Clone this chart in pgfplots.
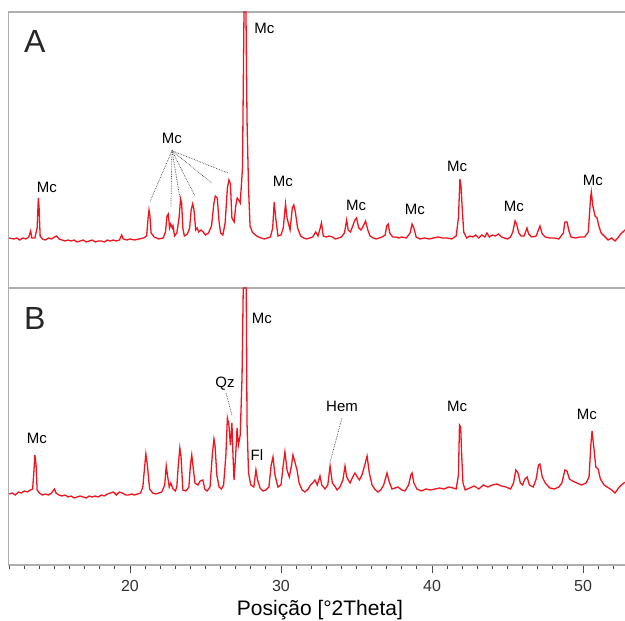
\documentclass[border=0pt]{standalone}
\usepackage{pgfplots}
\pgfplotsset{compat=1.18}
\usepackage{fontspec}
\setmainfont{Liberation Sans}
\definecolor{xrdred}{RGB}{240,20,30}
\definecolor{framegray}{RGB}{175,175,175}
\newcommand\lab{\fontsize{15bp}{18bp}\selectfont}
\newcommand\panelfont{\fontsize{32bp}{36bp}\selectfont}
\pgfplotsset{xrd/.style={scale only axis, width=627.35bp, xmin=11.954, xmax=53.5, ymin=0,
  axis line style={draw=framegray, line width=1.4bp}, ytick=\empty, clip=false},
  xrdline/.style={color=xrdred, line width=1.3bp, sharp plot, mark=none}}
\begin{document}
\begin{tikzpicture}
\useasboundingbox (0bp,0bp) rectangle (625bp,621bp);
% ---------------- Panel A
\begin{axis}[xrd, at={(8.5bp,333bp)}, anchor=south west, height=276bp, ymax=276, xtick=\empty]
\addplot[xrdline] coordinates {
(12.0,50)(12.3,49)(12.5,50)(12.7,48)(12.9,50)(13.1,49)(13.3,51)(13.42,57)(13.5,50)(13.7,50)
(13.85,60)(13.93,90)(13.98,80)(14.05,52)(14.2,49)(14.4,48)(14.6,50)(14.8,49)(15.0,51)(15.15,52)
(15.3,49)(15.5,48)(15.7,47)(15.9,48)(16.1,47)(16.3,48)(16.5,46)(16.7,47)(16.9,48)(17.1,46)
(17.3,47)(17.5,48)(17.7,46)(17.9,47)(18.1,47)(18.3,46)(18.5,48)(18.7,47)(18.9,48)(19.1,47)
(19.3,48)(19.45,53)(19.55,49)(19.8,48)(20.0,49)(20.3,48)(20.6,49)(20.9,50)(21.1,52)(21.2,70)
(21.26,78)(21.32,72)(21.4,55)(21.6,51)(21.9,49)(22.2,50)(22.35,56)(22.45,72)(22.54,74)(22.62,60)
(22.7,64)(22.8,60)(22.85,62)(22.95,52)(23.1,55)(23.25,70)(23.35,89)(23.42,85)(23.5,60)(23.6,52)
(23.8,54)(23.95,60)(24.05,78)(24.15,84)(24.24,78)(24.35,58)(24.45,60)(24.55,56)(24.7,58)(24.85,56)
(25.0,53)(25.2,55)(25.4,62)(25.55,84)(25.65,92)(25.78,90)(25.9,66)(26.0,55)(26.15,53)(26.3,65)
(26.45,100)(26.55,108)(26.65,104)(26.75,70)(26.9,66)(27.0,82)(27.1,90)(27.2,88)(27.3,85)(27.45,120)
(27.55,276)(27.68,276)(27.75,168)(27.85,100)(27.95,62)(28.1,56)(28.3,53)(28.5,51)(28.7,50)
(28.9,49)(29.1,50)(29.3,51)(29.45,60)(29.55,86)(29.65,70)(29.8,52)(30.0,53)(30.15,60)(30.3,84)
(30.4,70)(30.6,58)(30.75,80)(30.85,83)(30.95,76)(31.1,60)(31.3,52)(31.5,50)(31.7,49)(31.9,50)
(32.1,51)(32.3,56)(32.45,52)(32.6,60)(32.68,65)(32.8,52)(33.0,51)(33.2,52)(33.4,51)(33.6,49)
(33.8,50)(34.0,51)(34.2,55)(34.35,68)(34.45,58)(34.6,56)(34.75,62)(34.9,68)(35.0,70)(35.15,60)
(35.3,58)(35.45,62)(35.6,67)(35.75,58)(35.9,52)(36.1,50)(36.3,49)(36.5,50)(36.7,51)(36.9,53)
(37.0,62)(37.1,64)(37.2,55)(37.4,51)(37.6,51)(37.8,50)(38.0,51)(38.3,50)(38.55,55)(38.68,64)
(38.8,60)(38.95,51)(39.2,49)(39.5,50)(39.8,49)(40.1,50)(40.4,51)(40.7,50)(41.0,50)(41.3,49)
(41.6,52)(41.75,70)(41.85,109)(41.92,102)(42.0,80)(42.1,56)(42.3,50)(42.5,52)(42.7,51)(42.9,53)
(43.1,50)(43.3,53)(43.5,51)(43.64,55)(43.8,51)(44.0,53)(44.2,52)(44.4,54)(44.6,51)(44.8,50)
(45.0,49)(45.2,51)(45.35,56)(45.5,67)(45.6,64)(45.75,55)(45.9,52)(46.1,52)(46.29,60)(46.4,54)
(46.6,51)(46.9,52)(47.0,56)(47.15,62)(47.3,54)(47.5,51)(47.8,50)(48.1,50)(48.4,49)(48.7,55)
(48.8,66)(48.95,66)(49.05,58)(49.2,51)(49.5,50)(49.8,51)(50.1,51)(50.35,56)(50.5,90)(50.55,96)
(50.65,82)(50.8,72)(50.93,70)(51.05,62)(51.2,55)(51.4,52)(51.66,48)(51.9,50)(52.12,47)(52.3,50)
(52.5,54)(52.78,58)(53.0,60)(53.5,62)
};
\node[text=black!85, inner sep=0] at (axis cs:13.7,246) {\panelfont A};
\begin{scope}[every node/.style={font=\lab, inner sep=1bp}]
\node at (axis cs:28.9,260) {Mc};
\node at (axis cs:22.78,150) {Mc};
\node at (axis cs:14.5,101) {Mc};
\node at (axis cs:30.13,107) {Mc};
\node at (axis cs:34.97,83) {Mc};
\node at (axis cs:38.87,79) {Mc};
\node at (axis cs:41.66,122) {Mc};
\node at (axis cs:45.43,82) {Mc};
\node at (axis cs:50.66,108) {Mc};
\end{scope}
\begin{scope}[densely dotted, line width=0.7bp, black!75]
\draw (axis cs:22.78,137.3) -- (axis cs:21.32,86.3);
\draw (axis cs:22.78,137.3) -- (axis cs:22.71,81);
\draw (axis cs:22.78,137.3) -- (axis cs:23.31,90);
\draw (axis cs:22.78,137.3) -- (axis cs:24.30,92);
\draw (axis cs:22.78,137.3) -- (axis cs:25.41,105);
\draw (axis cs:22.78,137.3) -- (axis cs:26.49,115);
\end{scope}
\end{axis}
% ---------------- Panel B
\begin{axis}[xrd, at={(8.5bp,56bp)}, anchor=south west, height=277bp, ymax=277,
  xtick={20,30,40,50}, minor x tick num=9, xtick pos=lower, xtick align=outside,
  major tick length=7bp, minor tick length=3.5bp,
  xtick style={draw=black!70, line width=0.9bp},
  minor tick style={draw=black!70, line width=0.9bp},
  xticklabel style={font=\fontsize{16bp}{18bp}\selectfont, text=black!80, yshift=-5bp},
  /pgf/number format/assume math mode=true,
  xlabel={Posição [°2Theta]},
  xlabel style={at={(axis description cs:0.4965,0)}, anchor=center, yshift=-45bp, font=\fontsize{21bp}{24bp}\selectfont}]
\addplot[xrdline] coordinates {
(12.0,71)(12.2,72)(12.4,70)(12.6,73)(12.8,72)(13.0,74)(13.2,73)(13.4,75)(13.55,76)(13.62,90)
(13.7,110)(13.78,100)(13.85,75)(14.0,72)(14.2,70)(14.4,71)(14.6,70)(14.8,72)(15.0,76)(15.1,72)
(15.3,70)(15.5,69)(15.7,70)(15.9,68)(16.1,69)(16.3,67)(16.5,68)(16.7,69)(16.9,68)(17.1,67)
(17.3,69)(17.5,68)(17.7,69)(17.9,68)(18.1,70)(18.3,69)(18.5,71)(18.7,72)(18.9,73)(19.1,70)
(19.3,73)(19.5,72)(19.7,70)(19.9,70)(20.1,71)(20.3,70)(20.5,71)(20.7,72)(20.85,78)(20.95,95)
(21.05,111)(21.15,100)(21.3,76)(21.5,72)(21.7,71)(21.9,72)(22.1,73)(22.3,80)(22.4,99)(22.48,90)
(22.6,78)(22.7,82)(22.85,76)(23.0,74)(23.1,78)(23.2,100)(23.3,117)(23.38,108)(23.5,75)(23.7,74)
(23.9,78)(24.0,100)(24.09,110)(24.18,98)(24.3,82)(24.5,80)(24.65,84)(24.83,85)(24.95,76)(25.1,74)
(25.3,78)(25.45,110)(25.56,126)(25.63,120)(25.75,90)(25.9,78)(26.05,76)(26.2,80)(26.35,110)(26.45,147)
(26.55,140)(26.65,120)(26.75,142)(26.82,110)(26.89,85)(27.0,110)(27.09,137)(27.18,120)(27.3,130)(27.42,188)
(27.5,277)(27.7,277)(27.75,142)(27.85,92)(28.0,80)(28.2,78)(28.34,95)(28.45,85)(28.61,77)
(28.8,74)(29.0,75)(29.2,78)(29.35,100)(29.47,108)(29.6,90)(29.8,78)(30.0,80)(30.15,100)(30.26,113)
(30.4,95)(30.55,88)(30.7,100)(30.79,110)(30.9,104)(31.06,95)(31.2,82)(31.4,75)(31.59,73)(31.8,76)
(31.95,80)(32.1,82)(32.25,85)(32.4,80)(32.58,89)(32.7,80)(32.91,76)(33.1,80)(33.25,99)(33.4,82)
(33.6,78)(33.71,75)(33.9,78)(34.1,85)(34.24,99)(34.35,88)(34.57,82)(34.75,88)(34.9,92)(35.05,88)
(35.2,85)(35.36,90)(35.55,100)(35.7,109)(35.85,92)(36.03,80)(36.2,76)(36.42,73)(36.6,75)(36.8,80)
(37.02,92)(37.15,84)(37.35,76)(37.55,77)(37.75,78)(38.0,75)(38.21,74)(38.45,80)(38.6,90)(38.68,92)
(38.8,82)(39.0,76)(39.3,74)(39.6,76)(39.9,75)(40.2,76)(40.5,77)(40.8,76)(41.1,78)(41.4,77)
(41.6,76)(41.75,90)(41.82,140)(41.9,138)(41.96,112)(42.05,82)(42.2,75)(42.5,77)(42.8,79)(43.1,76)
(43.4,80)(43.7,78)(44.0,80)(44.3,81)(44.6,79)(44.9,78)(45.2,76)(45.4,82)(45.55,95)(45.7,92)
(45.85,82)(46.0,80)(46.15,86)(46.3,88)(46.45,80)(46.7,78)(46.9,86)(47.05,100)(47.15,101)(47.3,88)
(47.5,82)(47.8,77)(48.1,76)(48.4,78)(48.6,82)(48.8,95)(48.94,94)(49.1,86)(49.3,84)(49.6,82)
(49.9,80)(50.2,82)(50.4,88)(50.52,120)(50.6,134)(50.7,120)(50.85,98)(51.0,96)(51.15,86)(51.4,80)
(51.6,78)(51.9,75)(52.12,72)(52.4,78)(52.7,82)(53.0,84)(53.5,85)
};
% tick marks drawn explicitly below the frame
\pgfplotsinvokeforeach{12,13,...,53}{\draw[black!70, line width=0.9bp] (axis cs:#1,-0.7) -- (axis cs:#1,-4);}
\pgfplotsinvokeforeach{20,30,40,50}{\draw[black!70, line width=0.9bp] (axis cs:#1,-0.7) -- (axis cs:#1,-7.5);}
\node[text=black!85, inner sep=0] at (axis cs:13.7,247) {\panelfont B};
\begin{scope}[every node/.style={font=\lab, inner sep=1bp}]
\node at (axis cs:28.74,247) {Mc};
\node at (axis cs:26.29,181) {Qz};
\node at (axis cs:28.41,110) {Fl};
\node at (axis cs:34.04,159) {Hem};
\node at (axis cs:13.84,127) {Mc};
\node at (axis cs:41.66,159) {Mc};
\node at (axis cs:50.26,151) {Mc};
\end{scope}
\begin{scope}[densely dotted, line width=0.7bp, black!75]
\draw (axis cs:26.36,172) -- (axis cs:26.75,150);
\draw (axis cs:34.04,147) -- (axis cs:33.25,103);
\end{scope}
\end{axis}
\end{tikzpicture}
\end{document}
